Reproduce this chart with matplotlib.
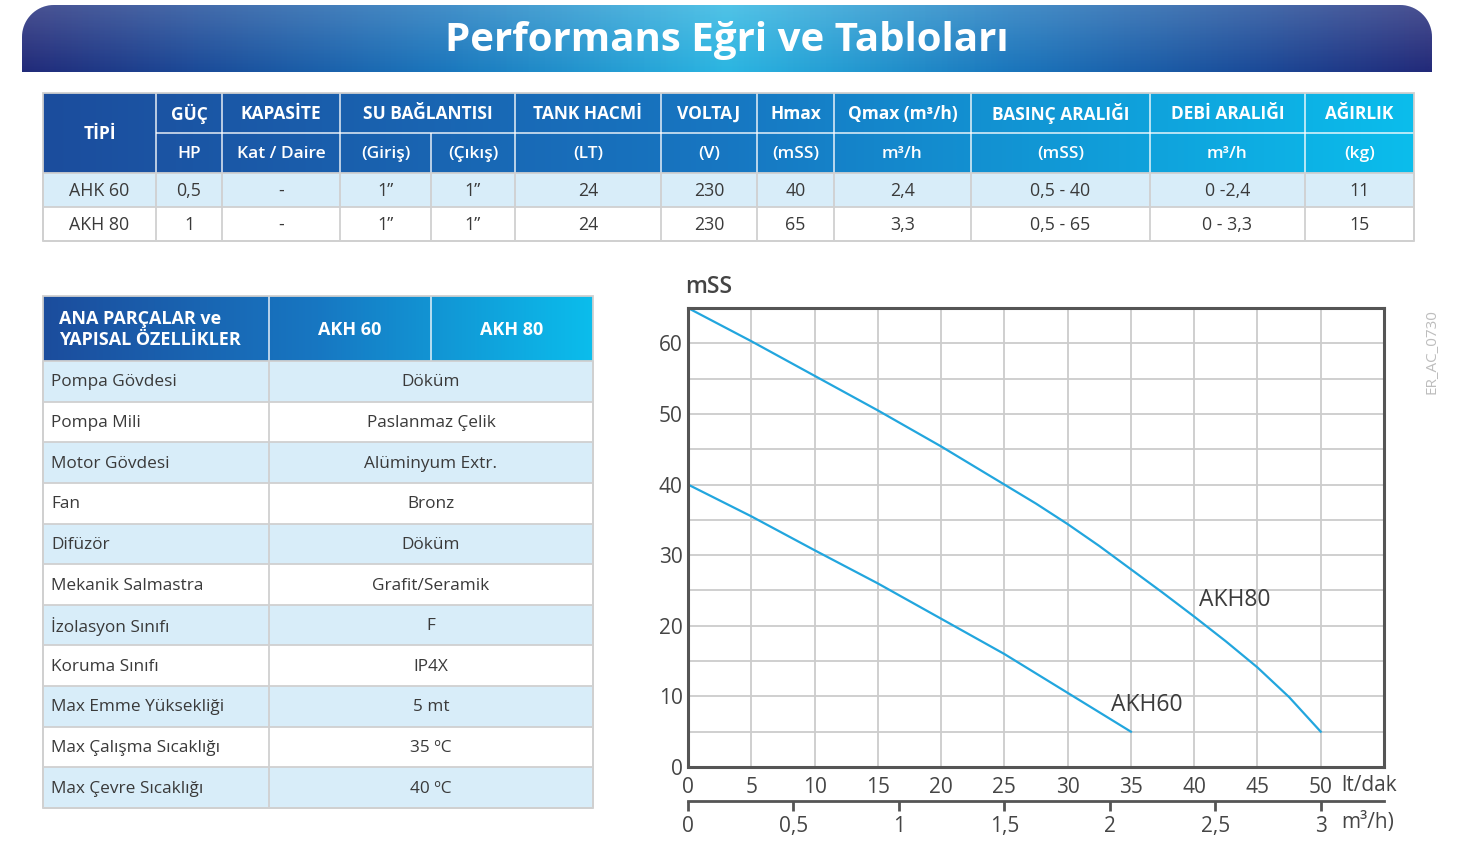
import numpy as np
import matplotlib
matplotlib.use('Agg')
import matplotlib.pyplot as plt
from matplotlib.colors import LinearSegmentedColormap
from matplotlib.patches import Rectangle, PathPatch
from matplotlib.path import Path

plt.rcParams['font.family'] = ['Open Sans', 'DejaVu Sans']

# ---------------- data ----------------
title = "Performans Eğri ve Tabloları"
spec_header_top = ["TİPİ", "GÜÇ", "KAPASİTE", "SU BAĞLANTISI", "TANK HACMİ", "VOLTAJ",
                   "Hmax", "Qmax (m³/h)", "BASINÇ ARALIĞI", "DEBİ ARALIĞI", "AĞIRLIK"]
spec_header_sub = ["HP", "Kat / Daire", "(Giriş)", "(Çıkış)", "(LT)", "(V)", "(mSS)",
                   "m³/h", "(mSS)", "m³/h", "(kg)"]
spec_row_ahk60 = ["AHK 60", "0,5", "-", "1”", "1”", "24", "230", "40", "2,4", "0,5 - 40", "0 -2,4", "11"]
spec_row_akh80 = ["AKH 80", "1", "-", "1”", "1”", "24", "230", "65", "3,3", "0,5 - 65", "0 - 3,3", "15"]

parts_header = ["ANA PARÇALAR ve\nYAPISAL ÖZELLİKLER", "AKH 60", "AKH 80"]
parts_names = ["Pompa Gövdesi", "Pompa Mili", "Motor Gövdesi", "Fan", "Difüzör",
               "Mekanik Salmastra", "İzolasyon Sınıfı", "Koruma Sınıfı",
               "Max Emme Yüksekliği", "Max Çalışma Sıcaklığı", "Max Çevre Sıcaklığı"]
parts_values = ["Döküm", "Paslanmaz Çelik", "Alüminyum Extr.", "Bronz", "Döküm",
                "Grafit/Seramik", "F", "IP4X", "5 mt", "35 ºC", "40 ºC"]

flow_lpm_akh60 = [0, 5, 10, 15, 20, 25, 30, 35]
head_akh60 = [40, 35.5, 30.7, 26.0, 21.0, 16.0, 10.5, 5]
flow_lpm_akh80 = [0, 5, 10, 15, 20, 25, 27.5, 30, 32.5, 35, 37.5, 40, 42.5, 45, 47.5, 50]
head_akh80 = [65, 60.3, 55.4, 50.5, 45.4, 40.0, 37.3, 34.4, 31.3, 28.0, 24.7, 21.3, 17.8, 14.1, 9.9, 5]
curve_names = ["AKH60", "AKH80"]

x_ticks_lpm = [0, 5, 10, 15, 20, 25, 30, 35, 40, 45, 50]
x_labels_lpm = ["0", "5", "10", "15", "20", "25", "30", "35", "40", "45", "50"]
y_ticks = [0, 10, 20, 30, 40, 50, 60]
m3h_ticks = [0, 0.5, 1, 1.5, 2, 2.5, 3]
m3h_labels = ["0", "0,5", "1", "1,5", "2", "2,5", "3"]

# ---------------- figure ----------------
W, H = 1458, 863
fig = plt.figure(figsize=(W / 100, H / 100), dpi=100)
bg = fig.add_axes([0, 0, 1, 1])
bg.set_axis_off()

TXT = '#3a3a3a'
GRIDC = '#d0d0d0'
LIGHT = '#d8edf9'
hdr_cmap = LinearSegmentedColormap.from_list('hdr', ['#1c4d9d', '#1777c2', '#0bbdec'])
ban_cmap = LinearSegmentedColormap.from_list(
    'ban', [(0, '#222b7a'), (0.12, '#1c4a98'), (0.3, '#1b77bd'), (0.5, '#2cb6e2'),
            (0.7, '#1b77bd'), (0.88, '#1c4a98'), (1, '#232a79')])
grad = np.linspace(0, 1, 512)[None, :]


def px(v):
    return v * 0.72


# ---- banner ----
x0, x1, y0, y1, r = 22, 1432, 5, 72, 32
t = np.linspace(np.pi, 1.5 * np.pi, 20)
left_arc = np.c_[x0 + r + r * np.cos(t), y0 + r + r * np.sin(t)]
t2 = np.linspace(1.5 * np.pi, 2 * np.pi, 20)
right_arc = np.c_[x1 - r + r * np.cos(t2), y0 + r + r * np.sin(t2)]
verts = np.vstack([[[x0, y1]], left_arc, right_arc, [[x1, y1]], [[x0, y1]]])
codes = [Path.MOVETO] + [Path.LINETO] * (len(verts) - 2) + [Path.CLOSEPOLY]
bpath = Path(verts, codes)
bpatch = PathPatch(bpath, facecolor='none', edgecolor='none', transform=bg.transData)
bg.add_patch(bpatch)
im = bg.imshow(grad, cmap=ban_cmap, extent=(x0, x1, y1, y0), aspect='auto', zorder=1)
im.set_clip_path(bpatch)
sheen = np.linspace(1, 0, 64)[:, None] * np.ones((1, 4))
shade = np.zeros((64, 4, 4))
shade[..., :3] = 1.0
shade[..., 3] = 0.18 * sheen
im2 = bg.imshow(shade, extent=(x0, x1, y1, y0), aspect='auto', zorder=2)
im2.set_clip_path(bpatch)
bg.text((x0 + x1) / 2, 41, title, color='white', fontsize=29, fontweight='bold',
        ha='center', va='center', zorder=3)

# ---- top spec table ----
CX = [43, 156, 222, 340, 431, 515, 661, 757, 834, 971, 1150, 1305, 1414]
RY = [93, 133, 173, 207, 241]
bg.imshow(grad, cmap=hdr_cmap, extent=(CX[0], CX[-1], RY[2], RY[0]), aspect='auto', zorder=1)
for i, row in enumerate([spec_row_ahk60, spec_row_akh80]):
    bg.add_patch(Rectangle((CX[0], RY[2 + i]), CX[-1] - CX[0], RY[3 + i] - RY[2 + i],
                           facecolor=LIGHT if i == 0 else 'white', edgecolor='none', zorder=1))
    for j, val in enumerate(row):
        bg.text((CX[j] + CX[j + 1]) / 2, (RY[2 + i] + RY[3 + i]) / 2 + 1, val,
                ha='center', va='center', fontsize=12.8, color=TXT, zorder=4)
# header texts
top_spans = [(0, 1), (1, 2), (2, 3), (3, 5), (5, 6), (6, 7), (7, 8), (8, 9), (9, 10), (10, 11), (11, 12)]
for lbl, (a, b) in zip(spec_header_top, top_spans):
    yy = (RY[0] + RY[2]) / 2 if a == 0 else (RY[0] + RY[1]) / 2
    bg.text((CX[a] + CX[b]) / 2, yy + 1, lbl, ha='center', va='center', fontsize=12.5,
            fontweight='bold', color='white', zorder=4)
for j, lbl in enumerate(spec_header_sub):
    bg.text((CX[j + 1] + CX[j + 2]) / 2, (RY[1] + RY[2]) / 2 + 1, lbl, ha='center', va='center',
            fontsize=12.5, fontweight='semibold', color='white', zorder=4)
# header lines (white)
wl = dict(color='white', lw=px(1.6), alpha=0.85, zorder=3, solid_capstyle='butt')
bg.plot([CX[1], CX[-1]], [RY[1], RY[1]], **wl)
for k in range(1, len(CX) - 1):
    if CX[k] != 431:
        bg.plot([CX[k], CX[k]], [RY[0], RY[1]], **wl)
    bg.plot([CX[k], CX[k]], [RY[1], RY[2]], **wl)
# body lines (gray)
gl = dict(color=GRIDC, lw=px(1.8), zorder=3, solid_capstyle='butt')
for yy in RY[2:]:
    bg.plot([CX[0], CX[-1]], [yy, yy], **gl)
for xx in CX:
    bg.plot([xx, xx], [RY[2], RY[-1]], **gl)
bg.add_patch(Rectangle((CX[0], RY[0]), CX[-1] - CX[0], RY[-1] - RY[0], facecolor='none',
                       edgecolor=GRIDC, lw=px(1.8), zorder=3))

# ---- left parts table ----
PX = [43, 269, 431, 593]
HY0, HY1 = 296, 361
rows_y = np.linspace(HY1, 808, len(parts_names) + 1)
bg.imshow(grad, cmap=hdr_cmap, extent=(PX[0], PX[-1], HY1, HY0), aspect='auto', zorder=1)
bg.text(59, (HY0 + HY1) / 2 + 1, parts_header[0], ha='left', va='center', fontsize=13,
        fontweight='bold', color='white', linespacing=1.15, zorder=4)
for k in (1, 2):
    bg.text((PX[k] + PX[k + 1]) / 2, (HY0 + HY1) / 2 + 1, parts_header[k], ha='center', va='center',
            fontsize=13, fontweight='bold', color='white', zorder=4)
for xx in PX[1:3]:
    bg.plot([xx, xx], [HY0, HY1], **wl)
for i, (nm, val) in enumerate(zip(parts_names, parts_values)):
    ya, yb = rows_y[i], rows_y[i + 1]
    bg.add_patch(Rectangle((PX[0], ya), PX[-1] - PX[0], yb - ya,
                           facecolor=LIGHT if i % 2 == 0 else 'white', edgecolor='none', zorder=1))
    bg.text(51, (ya + yb) / 2 + 1, nm, ha='left', va='center', fontsize=12.4, color=TXT, zorder=4)
    bg.text(PX[2], (ya + yb) / 2 + 1, val, ha='center', va='center', fontsize=12.4, color=TXT, zorder=4)
for yy in rows_y:
    bg.plot([PX[0], PX[-1]], [yy, yy], **gl)
for xx in (PX[0], PX[1], PX[-1]):
    bg.plot([xx, xx], [HY1, rows_y[-1]], **gl)
bg.add_patch(Rectangle((PX[0], HY0), PX[-1] - PX[0], rows_y[-1] - HY0, facecolor='none',
                       edgecolor=GRIDC, lw=px(1.8), zorder=3))

bg.set_xlim(0, W)
bg.set_ylim(H, 0)

# ---- performance chart ----
L, R, T, B = 688, 1384, 308, 767
ax = fig.add_axes([L / W, 1 - B / H, (R - L) / W, (B - T) / H])
ax.set_xlim(0, 55)
ax.set_ylim(0, 65)
ax.set_xticks(x_ticks_lpm, labels=x_labels_lpm)
ax.set_yticks(y_ticks)
ax.set_xticks([55], minor=True)
ax.set_yticks([5, 15, 25, 35, 45, 55, 65], minor=True)
ax.grid(which='both', color='#cccccc', lw=1.3)
ax.set_axisbelow(True)
ax.tick_params(which='both', length=0, labelsize=15, labelcolor='#454545')
ax.tick_params(axis='x', pad=7)
ax.tick_params(axis='y', pad=4)
for s in ax.spines.values():
    s.set_color('#555555')
    s.set_linewidth(2.2)

CURVE = '#22a6de'
ax.plot(flow_lpm_akh60, head_akh60, color=CURVE, lw=1.6)
ax.plot(flow_lpm_akh80, head_akh80, color=CURVE, lw=1.6)
ax.text(33.4, 8.8, curve_names[0], fontsize=16.5, fontweight='medium', color='#3c3c3c',
        ha='left', va='center')
ax.text(40.4, 23.6, curve_names[1], fontsize=16.5, fontweight='medium', color='#3c3c3c',
        ha='left', va='center')

ax.text(-0.004, 1.046, 'mSS', transform=ax.transAxes, fontsize=16.5, fontweight='semibold',
        color='#444444', ha='left', va='center')
xt = ax.get_xaxis_transform()
ax.text(51.6, (B - 785) / (B - T), 'lt/dak', transform=xt, fontsize=15, color='#454545',
        ha='left', va='center')

sec = ax.secondary_xaxis(-(801 - B) / (B - T),
                         functions=(lambda q: np.asarray(q) * 0.06, lambda m: np.asarray(m) / 0.06))
sec.set_xticks(m3h_ticks, labels=m3h_labels)
sec.spines['bottom'].set_color('#555555')
sec.spines['bottom'].set_linewidth(2)
sec.tick_params(direction='out', length=7, width=2, color='#555555', labelsize=15,
                labelcolor='#454545', pad=4)
ax.text(51.6, -(822 - B) / (B - T), 'm³/h)', transform=xt, fontsize=15, color='#454545',
        ha='left', va='center')

fig.text(1432 / W, 1 - 352 / H, 'ER_AC_0730', rotation=90, fontsize=11, color='#bdbdbd',
         ha='center', va='center')

fig.savefig('out.png', dpi=100)
